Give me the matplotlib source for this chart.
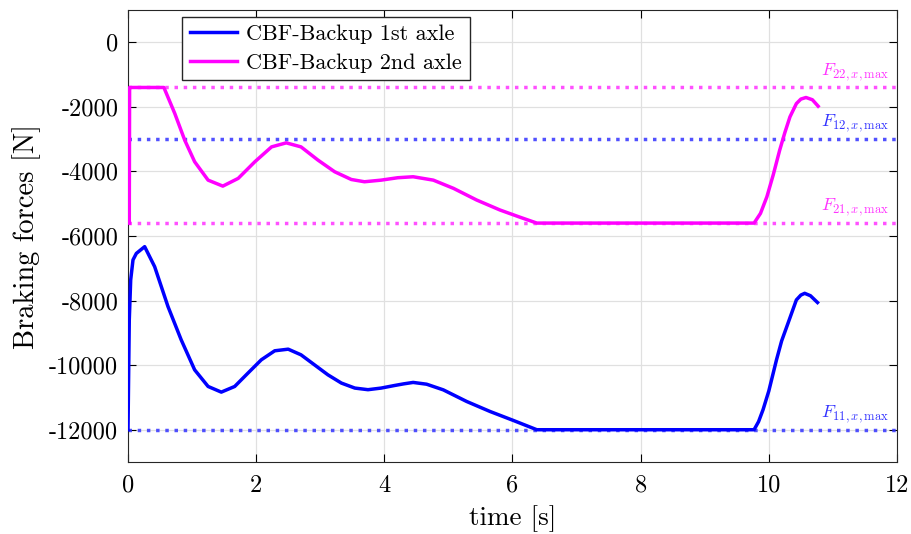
import numpy as np
import matplotlib
matplotlib.use("Agg")
import matplotlib.pyplot as plt
from matplotlib.ticker import FuncFormatter

plt.rcParams['font.family'] = 'serif'
plt.rcParams['font.serif'] = ['cmr10']
plt.rcParams['mathtext.fontset'] = 'cm'
plt.rcParams['axes.unicode_minus'] = False

# CBF-Backup 1st axle
t1 = [0.0, 0.0, 0.02, 0.042, 0.078, 0.13, 0.26, 0.416, 0.624, 0.83, 1.04, 1.25,
      1.456, 1.665, 1.87, 2.08, 2.29, 2.5, 2.7, 2.91, 3.12, 3.33, 3.54, 3.745,
      3.95, 4.16, 4.3, 4.45, 4.66, 4.92, 5.285, 5.65, 6.01, 6.38, 9.77, 9.84,
      9.91, 10.0, 10.12, 10.2, 10.3, 10.43, 10.5, 10.56, 10.65, 10.76]
f1 = [-12000, -12000, -8600, -7360, -6740, -6540, -6330, -6950, -8185, -9215,
      -10145, -10660, -10835, -10660, -10250, -9835, -9555, -9505, -9680, -9990,
      -10300, -10555, -10710, -10760, -10710, -10630, -10580, -10535, -10590,
      -10765, -11125, -11435, -11710, -12000, -12000, -11750, -11380, -10800,
      -9835, -9250, -8700, -7980, -7830, -7775, -7850, -8060]

# CBF-Backup 2nd axle
t2 = [0.02, 0.025, 0.56, 0.73, 0.885, 1.04, 1.25, 1.48, 1.72, 1.98, 2.24, 2.47,
      2.7, 2.965, 3.225, 3.485, 3.69, 3.95, 4.21, 4.45, 4.765, 5.08, 5.44, 5.805,
      6.12, 6.38, 9.77, 9.87, 9.97, 10.07, 10.17, 10.25, 10.33, 10.43, 10.5,
      10.58, 10.68, 10.77]
f2 = [-5600, -1400, -1400, -2205, -3030, -3700, -4270, -4455, -4215, -3700, -3240,
      -3115, -3240, -3650, -4010, -4250, -4320, -4270, -4195, -4165, -4270, -4525,
      -4885, -5195, -5420, -5600, -5600, -5300, -4785, -4100, -3340, -2800, -2310,
      -1900, -1760, -1710, -1780, -1980]

# limites
lim_names = [r'$F_{22,x,\mathrm{max}}$', r'$F_{12,x,\mathrm{max}}$',
             r'$F_{21,x,\mathrm{max}}$', r'$F_{11,x,\mathrm{max}}$']
lim_vals = [-1400, -3000, -5600, -12000]
lim_cols = ['#ff33ff', '#3333ff', '#ff33ff', '#3333ff']

fig = plt.figure(figsize=(9.11, 5.34), dpi=100)
ax = fig.add_axes([0.1405, 0.1348, 0.8441, 0.8465])

for v, c in zip(lim_vals, lim_cols):
    ax.axhline(v, color=c, ls=':', lw=2.5, alpha=0.85, zorder=2)

ax.plot(t1, f1, color='#0000ff', lw=2.5, label='CBF-Backup 1st axle', zorder=3,
        solid_joinstyle='round')
ax.plot(t2, f2, color='#ff00ff', lw=2.5, label='CBF-Backup 2nd axle', zorder=3,
        solid_joinstyle='round')

for n, v, c in zip(lim_names, lim_vals, lim_cols):
    ax.text(11.88, v + 150, n, color=c, fontsize=13, ha='right', va='bottom')

ax.set_xlim(0, 12)
ax.set_ylim(-13000, 1000)
ax.set_xticks(np.arange(0, 13, 2))
ax.set_yticks(np.arange(-12000, 1, 2000))
ax.yaxis.set_major_formatter(FuncFormatter(lambda v, p: str(int(v))))
ax.grid(True, color='#e0e0e0', lw=0.9)
ax.set_axisbelow(True)
ax.tick_params(direction='in', top=True, right=True, labelsize=17.5, length=6, width=0.8)
ax.tick_params(axis='x', pad=9)
ax.tick_params(axis='y', pad=7)
for s in ax.spines.values():
    s.set_color('#262626')
    s.set_linewidth(0.8)

ax.set_xlabel('time [s]', fontsize=19.5, labelpad=6)
ax.set_ylabel('Braking forces [N]', fontsize=20.5, labelpad=6)

ax.legend(loc='upper left', bbox_to_anchor=(0.07, 0.985), fontsize=16,
          fancybox=False, edgecolor='#262626', framealpha=1, borderaxespad=0,
          handlelength=2.15, borderpad=0.35, labelspacing=0.4, handletextpad=0.4)

fig.savefig('out.png', dpi=100)
